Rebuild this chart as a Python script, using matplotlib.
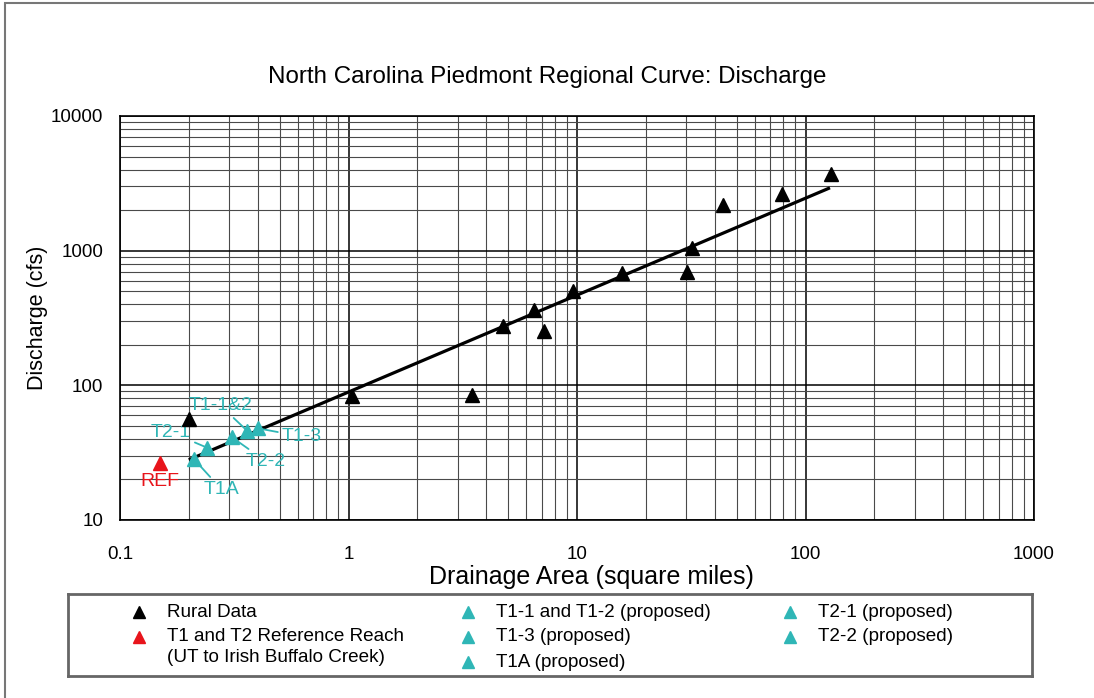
import matplotlib
matplotlib.use("Agg")
import matplotlib.pyplot as plt
from matplotlib.patches import Rectangle
from matplotlib.ticker import LogLocator, NullFormatter, FuncFormatter
import numpy as np

plt.rcParams["font.family"] = ["Liberation Sans", "DejaVu Sans"]

# rural regional data (drainage area in sq mi, discharge in cfs)
rural_area = [0.20, 1.04, 3.46, 4.75, 6.5, 7.2, 9.6, 15.7, 30.2, 32, 43.4, 79, 129]
rural_q = [56, 83, 85, 275, 360, 255, 505, 680, 700, 1055, 2200, 2650, 3700]

# regional curve end points
curve_area = [0.20, 128]
curve_q = [28, 2930]

# reference reach
ref_area = [0.15]
ref_q = [26.5]

# proposed reaches
prop_labels = ["T1-1&2", "T1-3", "T1A", "T2-1", "T2-2"]
prop_area = [0.36, 0.40, 0.21, 0.24, 0.31]
prop_q = [46, 48, 28.5, 34.5, 41]
# label offsets in points
prop_offsets = [(-19, 18), (32, -6), (20, -22), (-26, 11), (24, -17)]

legend_labels = ["Rural Data", "T1 and T2 Reference Reach\n(UT to Irish Buffalo Creek)",
                 "T1-1 and T1-2 (proposed)", "T1-3 (proposed)", "T1A (proposed)",
                 "T2-1 (proposed)", "T2-2 (proposed)"]
CYAN = "#2fb6b6"
RED = "#e8141b"
legend_colors = ["black", RED, CYAN, CYAN, CYAN, CYAN, CYAN]
# (column, row) slots
legend_slots = [(0, 0), (0, 1), (1, 0), (1, 1), (1, 2), (2, 0), (2, 1)]

W, H = 1094, 698
fig = plt.figure(figsize=(W / 100, H / 100), dpi=100)

# outer frame
fig.patches.append(Rectangle((5 / W, -0.1), 1.2, 1.1 - 3.5 / H, transform=fig.transFigure,
                             fill=False, edgecolor="#777777", lw=1.5))

ax = fig.add_axes([120 / W, 1 - 520 / H, 914 / W, 404 / H])
ax.set_xscale("log")
ax.set_yscale("log")
ax.set_xlim(0.1, 1000)
ax.set_ylim(10, 10000)

for axis in (ax.xaxis, ax.yaxis):
    axis.set_minor_locator(LogLocator(base=10, subs=np.arange(2, 10), numticks=50))
    axis.set_minor_formatter(NullFormatter())
    axis.set_major_formatter(FuncFormatter(lambda v, p: "{:g}".format(v)))
ax.grid(which="major", color="black", lw=1.1)
ax.grid(which="minor", color="#4a4a4a", lw=0.8)
ax.set_axisbelow(True)
ax.tick_params(which="both", length=0)
ax.tick_params(axis="x", pad=19, labelsize=13.5)
ax.tick_params(axis="y", pad=12, labelsize=13.5)
for s in ax.spines.values():
    s.set_color("black")
    s.set_linewidth(1.2)

ax.plot(curve_area, curve_q, color="black", lw=2.3, solid_capstyle="butt", zorder=3)
ax.plot(rural_area, rural_q, "^", color="black", markersize=9.5, zorder=4)
ax.plot(ref_area, ref_q, "^", color=RED, markersize=9.5, zorder=4)
ax.annotate("REF", (ref_area[0], ref_q[0]), xytext=(0, -13), textcoords="offset points",
            ha="center", va="center", color=RED, fontsize=14)
ax.plot(prop_area, prop_q, "^", color=CYAN, markersize=9.5, zorder=5)
for lab, xa, yq, off in zip(prop_labels, prop_area, prop_q, prop_offsets):
    ax.annotate(lab, (xa, yq), xytext=off, textcoords="offset points",
                ha="center", va="center", color=CYAN, fontsize=14,
                arrowprops=dict(arrowstyle="-", color=CYAN, lw=1.3,
                                shrinkA=1, shrinkB=0))

ax.set_xlabel("Drainage Area (square miles)", fontsize=18, labelpad=1,
              x=(591 - 120) / 914)
ax.set_ylabel("Discharge (cfs)", fontsize=15.5, labelpad=2)
fig.text(0.5, 1 - 77 / H, "North Carolina Piedmont Regional Curve: Discharge",
         ha="center", va="center", fontsize=17.4)

# legend box
lax = fig.add_axes([68 / W, 1 - 676 / H, 964 / W, 82 / H])
lax.set_xlim(0, 1)
lax.set_ylim(0, 1)
lax.set_xticks([])
lax.set_yticks([])
for s in lax.spines.values():
    s.set_color("#666666")
    s.set_linewidth(2)
col_x = [0.074, 0.415, 0.749]
row_y = [0.78, 0.476, 0.17]
line_step = 0.245
for lab, c, (ci, ri) in zip(legend_labels, legend_colors, legend_slots):
    lax.plot(col_x[ci], row_y[ri], "^", color=c, markersize=9)
    for k, line in enumerate(lab.split("\n")):
        lax.text(col_x[ci] + 0.029, row_y[ri] - k * line_step, line,
                 ha="left", va="center", fontsize=13.6)

fig.savefig("out.png", dpi=100)
